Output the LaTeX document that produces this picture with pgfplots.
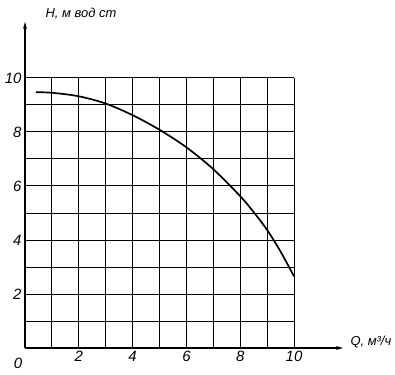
\documentclass[border=0pt]{standalone}
\usepackage{fontspec}
\setmainfont{Liberation Sans}
\usepackage{pgfplots}
\pgfplotsset{compat=1.18}
\usetikzlibrary{arrows.meta}
\begin{document}
\begin{tikzpicture}
\useasboundingbox (-25bp,-27bp) rectangle (370bp,348bp);
\begin{axis}[
  at={(0,0)}, anchor=south west,
  scale only axis, width=318bp, height=326bp,
  xmin=0, xmax=11.82, ymin=0, ymax=12.07,
  axis lines=left,
  axis line style={line width=1.1pt, -{Stealth[length=7bp,width=4bp]}},
  xtick={2,4,6,8,10}, ytick={2,4,6,8,10},
  major tick length=0pt,
  tick label style={font=\itshape\fontsize{15}{15}\selectfont},
  /pgf/number format/assume math mode=true,
  clip=false,
]
\pgfplotsinvokeforeach{1,...,10}{
  \draw[line width=0.9pt] (axis cs:#1,0) -- (axis cs:#1,10);
  \draw[line width=0.9pt] (axis cs:0,#1) -- (axis cs:10,#1);
}
\addplot[line width=1.7pt, smooth, mark=none] coordinates {
(0.4,9.47)(1,9.45)(2,9.32)(3,9.05)(4,8.62)(5,8.08)(6,7.43)(7,6.62)(8,5.62)(8.5,5.03)(9,4.37)(9.5,3.57)(10,2.65)
};
\node[font=\itshape\fontsize{15}{15}\selectfont] at ([shift={(-7bp,-15bp)}]axis cs:0,0) {0};
\node[font=\itshape\fontsize{13}{13}\selectfont] at ([shift={(56bp,334bp)}]axis cs:0,0) {H, м вод ст};
\node[font=\itshape\fontsize{13}{13}\selectfont, anchor=west] at ([shift={(322bp,6bp)}]axis cs:0,0) {Q, м³/ч};
\end{axis}
\end{tikzpicture}
\end{document}
